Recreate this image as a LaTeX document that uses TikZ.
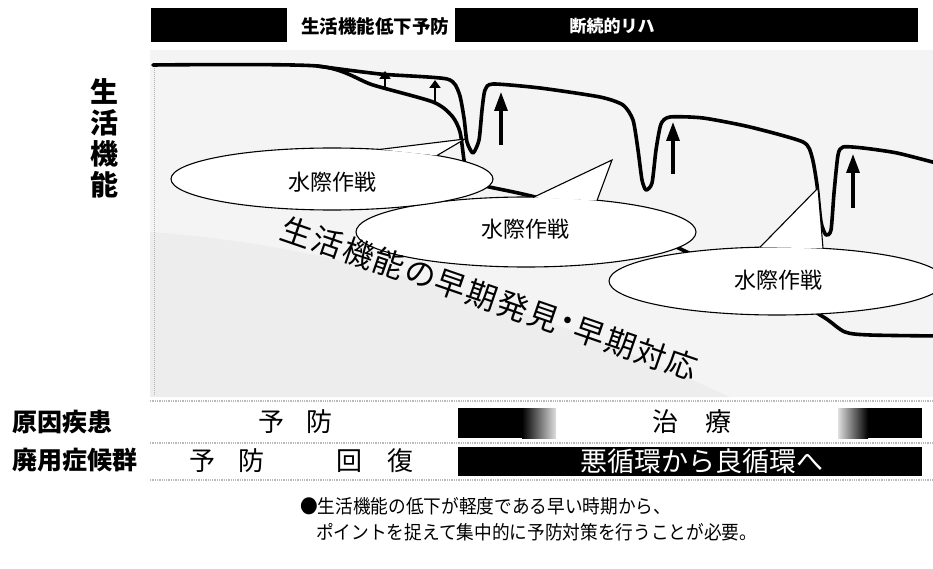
\documentclass[tikz,border=0pt]{standalone}
\usepackage{fontspec}
\setmainfont{Noto Sans CJK JP}
\usetikzlibrary{arrows.meta}
\begin{document}
\begin{tikzpicture}[x=1pt,y=-1pt,
  curve/.style={line width=3.6pt, line join=round, line cap=round},
  uparrow/.style={line width=3.2pt, -{Triangle[width=13pt,length=19pt]}},
  smallarrow/.style={line width=2.4pt, -{Triangle[width=11pt,length=8pt]}},
  bubbleline/.style={line width=1.1pt, line join=miter},
  btext/.style={font=\fontsize{22}{24}\selectfont, inner sep=0},
  diagchar/.style={font=\fontsize{31}{32}\selectfont, inner sep=0, rotate=-19},
  lab/.style={font=\bfseries\fontsize{25}{27}\selectfont, anchor=west, inner sep=0},
  rowtext/.style={font=\fontsize{26}{28}\selectfont, inner sep=0},
  note/.style={font=\fontsize{19}{21}\selectfont, anchor=west, inner sep=0, xscale=0.93},
  sep/.style={gray!55, densely dotted, line width=1.3pt}
]
\useasboundingbox (0,0) rectangle (933,569);
\clip (0,0) rectangle (933,569);

% background speckle tone
\fill[gray!9] (150,50) rectangle (933,397);
\fill[gray!14] (150,232) .. controls (330,245) and (520,300) .. (730,397) -- (150,397) -- cycle;
\draw[gray!60, densely dotted, line width=1pt] (154,68) -- (154,396);
\draw[sep] (150,401) -- (933,401);
\draw[sep] (150,443) -- (933,443);
\draw[sep] (150,480) -- (933,480);

% top bar
\fill[black] (151,8) rectangle (287,42);
\fill[black] (455,8) rectangle (918,42);
\node[font=\bfseries\fontsize{18.5}{20}\selectfont, anchor=west, inner sep=0] (t1) at (301,26) {生活機能低下予防};
\node[white, font=\bfseries\fontsize{17}{19}\selectfont, inner sep=0] (t2) at (612,26) {断続的リハ};

% vertical axis label
\node[font=\bfseries\fontsize{28}{31}\selectfont, align=center, inner sep=0] (ylab) at (104,138) {生\\活\\機\\能};

% natural decline line
\draw[curve] plot[smooth, tension=0.45] coordinates {(153,65) (317,66) (373,85) (433,102) (452,116) (460,132) (464,160) (468,180) (485,186) (535,197) (620,222) (700,258) (790,298) (825,318) (845,332) (870,335) (940,336)};
% line with interventions
\draw[curve] plot[smooth, tension=0.4] coordinates {(317,66) (380,74) (447,79) (459,93) (464,118) (467,142) (473,153) (479,140) (482,110) (485,90) (493,84) (540,88) (600,97) (623,105) (633,120) (638,150) (642,180) (646,190) (652,183) (656,150) (661,124) (670,117) (703,118) (750,127) (803,142) (812,157) (817,185) (821,222) (826,235) (831,230) (834,193) (838,155) (843,147) (863,148) (897,153) (940,164)};

% arrows
\draw[smallarrow] (385,88) -- (385,71);
\draw[smallarrow] (435,101) -- (435,80);
\draw[uparrow] (501,145) -- (501,92);
\draw[uparrow] (673,174) -- (673,122);
\draw[uparrow] (853,208) -- (853,154);

% callout 2
\fill[white] (526,232) ellipse [x radius=170, y radius=35];
\draw[bubbleline] (526,232) ellipse [x radius=170, y radius=35];
\fill[white] (612,160) -- (533,197.5) -- (597,200.5) -- cycle;
\draw[bubbleline] (533,197.5) -- (612,160) -- (597,200.5);
\node[btext] (w2) at (525,229) {水際作戦};

% callout 3
\fill[white] (777,281) ellipse [x radius=168, y radius=34];
\draw[bubbleline] (777,281) ellipse [x radius=168, y radius=34];
\fill[white] (818,188) -- (760,247.2) -- (823,248.3) -- cycle;
\draw[bubbleline] (760,247.2) -- (818,188) -- (823,248.3);
\node[btext] (w3) at (778,280) {水際作戦};

% callout 1
\fill[white] (332,179) ellipse [x radius=161, y radius=31];
\draw[bubbleline] (332,179) ellipse [x radius=161, y radius=31];
\fill[white] (465,139) -- (380,149.4) -- (437,155.5) -- cycle;
\draw[bubbleline] (380,149.4) -- (465,139) -- (437,155.5);
\node[btext] (w1) at (332,182) {水際作戦};

% diagonal text, one character per node
\foreach \c/\s [count=\i from 0] in {生/0,活/1,機/2,能/3,の/4,早/5,期/6,発/7,見/8,・/8.75,早/9.5,期/10.5,対/11.5,応/12.5}
  \node[diagchar] (d\i) at ({297+\s*30.8},{232+\s*10.6}) {\c};

% row 1
\node[lab] (r1) at (12,422) {原因疾患};
\node[rowtext] (r1a) at (271,422) {予};
\node[rowtext] (r1b) at (319,422) {防};
\fill[black] (458,408) rectangle (522,438);
\shade[left color=black, right color=gray!25] (522,408) rectangle (556,438);
\shade[left color=gray!25, right color=black] (838,408) rectangle (868,438);
\fill[black] (868,408) rectangle (922,438);
\node[rowtext] (r1c) at (665,422) {治};
\node[rowtext] (r1d) at (718,422) {療};

% row 2
\node[lab] (r2) at (12,460) {廃用症候群};
\node[rowtext] (r2a) at (202,461) {予};
\node[rowtext] (r2b) at (251,461) {防};
\node[rowtext] (r2c) at (349,461) {回};
\node[rowtext] (r2d) at (400,461) {復};
\fill[black] (458,447) rectangle (922,476);
\node[white, font=\fontsize{27}{29}\selectfont, inner sep=0] (r2e) at (702,461) {悪循環から良循環へ};

% note
\node[note] (n1) at (300,506) {●生活機能の低下が軽度である早い時期から、};
\node[note] (n2) at (316,532) {ポイントを捉えて集中的に予防対策を行うことが必要。};
\end{tikzpicture}
\end{document}
